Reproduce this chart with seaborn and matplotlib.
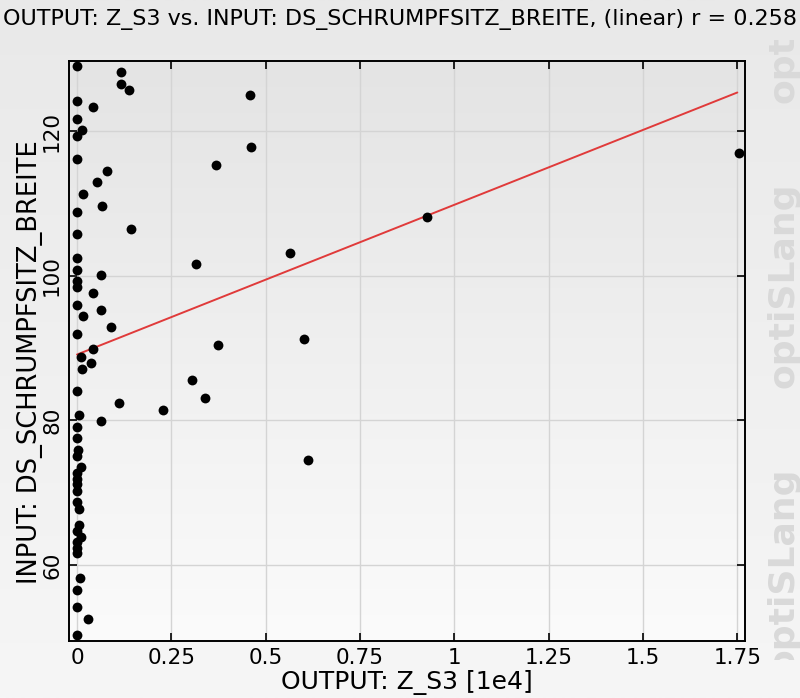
import numpy as np
import pandas as pd
import matplotlib
matplotlib.use("Agg")
import matplotlib.pyplot as plt
import seaborn as sns
from matplotlib.colors import LinearSegmentedColormap

# OUTPUT: Z_S3 (in units of 1e4)
z_s3 = [0.000, 0.116, 0.116, 0.138, 0.001, 0.043, 0.000, 0.014, 0.000, 0.000,
        0.080, 0.054, 0.015, 0.067, 0.000, 0.142, 0.000, 0.000, 0.000, 0.064,
        0.000, 0.001, 0.043, 0.000, 0.063, 0.015, 0.089, 0.000, 0.043, 0.010,
        0.037, 0.014, 0.001, 0.111, 0.227, 0.005, 0.064, 0.000, 0.000, 0.002,
        0.000, 0.011, 0.000, 0.000, 0.000, 0.000, 0.000, 0.006, 0.005, 0.000,
        0.010, 0.000, 0.000, 0.000, 0.008, 0.000, 0.000, 0.030, 0.000,
        0.368, 0.315, 0.565, 0.928, 0.374, 0.602, 0.306, 0.340, 0.613, 0.459,
        0.461, 1.755]

# INPUT: DS_SCHRUMPFSITZ_BREITE
breite = [129.0, 128.1, 126.5, 125.7, 124.2, 123.3, 121.7, 120.1, 119.3, 116.1,
          114.5, 112.9, 111.3, 109.6, 108.8, 106.4, 105.7, 102.4, 100.8, 100.1,
          99.3, 98.4, 97.6, 96.0, 95.3, 94.4, 92.9, 91.9, 89.9, 88.8,
          87.9, 87.1, 84.0, 82.4, 81.5, 80.7, 79.9, 79.1, 77.5, 75.9,
          75.1, 73.5, 72.7, 71.9, 71.2, 70.3, 68.7, 67.8, 65.5, 64.7,
          63.9, 63.2, 62.4, 61.6, 58.2, 56.6, 54.2, 52.6, 50.3,
          115.3, 101.6, 103.2, 108.1, 90.4, 91.2, 85.6, 83.1, 74.5, 125.0,
          117.8, 116.9]

# linear fit
fit_intercept = 89.1
fit_slope = 20.7
fit_x = [0.0, 1.75]
r_value = 0.258

xticks = [0, 0.25, 0.5, 0.75, 1.0, 1.25, 1.5, 1.75]
xticklabels = ["0", "0.25", "0.5", "0.75", "1", "1.25", "1.5", "1.75"]
yticks = [60, 80, 100, 120]
yticklabels = ["60", "80", "100", "120"]

df = pd.DataFrame({"z_s3": z_s3, "breite": breite})
fit_df = pd.DataFrame({"x": fit_x,
                       "y": [fit_intercept + fit_slope * v for v in fit_x]})

sns.set_theme(style="white")
plt.rcParams["font.family"] = ["DejaVu Sans"]

W, H = 800, 698
fig = plt.figure(figsize=(W / 100, H / 100), dpi=100)

# figure background gradient
bg = fig.add_axes([0, 0, 1, 1], zorder=-10)
bg_cmap = LinearSegmentedColormap.from_list("bg", ["#f6f6f6", "#e9e9e9"])
bg.imshow(np.linspace(0, 1, 256).reshape(-1, 1), cmap=bg_cmap, aspect="auto",
          extent=[0, 1, 0, 1], origin="lower")
bg.set_axis_off()

# main axes
left, right, top, bottom = 69, 745, 61, 641
ax = fig.add_axes([left / W, 1 - bottom / H, (right - left) / W, (bottom - top) / H])

ax_cmap = LinearSegmentedColormap.from_list("ax", ["#fbfbfb", "#e4e4e4"])
ax.imshow(np.linspace(0, 1, 256).reshape(-1, 1), cmap=ax_cmap, aspect="auto",
          extent=[0, 1, 0, 1], origin="lower", transform=ax.transAxes, zorder=0)

ax.grid(True, color="#d4d4d4", linewidth=1.0, zorder=1)
ax.set_axisbelow(True)

sns.lineplot(data=fit_df, x="x", y="y", ax=ax, color="#e03a3a", linewidth=1.4,
             zorder=2)
sns.scatterplot(data=df, x="z_s3", y="breite", ax=ax, color="black", s=50,
                linewidth=0, zorder=3)

ax.set_xlim(-0.0212, 1.7704)
ax.set_ylim(49.5, 129.68)
ax.set_xticks(xticks)
ax.set_xticklabels(xticklabels)
ax.set_yticks(yticks)
ax.set_yticklabels(yticklabels, rotation=90, va="center")

ax.tick_params(direction="in", length=6, width=1.2, color="black",
               top=True, right=True, bottom=True, left=True,
               labelsize=15.5, labelcolor="black", pad=5)
for s in ax.spines.values():
    s.set_color("black")
    s.set_linewidth(1.4)

ax.set_xlabel("OUTPUT: Z_S3 [1e4]", fontsize=18, color="black")
ax.set_ylabel("INPUT: DS_SCHRUMPFSITZ_BREITE", fontsize=18.5, color="black")
ax.xaxis.set_label_coords(0.5, -0.05)
ax.yaxis.set_label_coords(-0.039, 0.481)

fig.text(0.004, 1 - 20 / H,
         f"OUTPUT: Z_S3 vs. INPUT: DS_SCHRUMPFSITZ_BREITE, (linear) r = {r_value:.3f}",
         fontsize=16, va="center", ha="left", color="black")

# optiSLang watermark strip on the right
wm = fig.add_axes([752 / W, 1 - 660 / H, 48 / W, 620 / H])
wm.set_axis_off()
wm.set_xlim(0, 1)
wm.set_ylim(0, 1)
for py in (103, 388, 673):
    wm.text(0.65, (660 - py) / 620, "optiSLang", rotation=90, ha="center",
            va="bottom", fontsize=26, fontweight="bold",
            color="#d9d9d9", clip_on=True)

fig.savefig("out.png", dpi=100)
